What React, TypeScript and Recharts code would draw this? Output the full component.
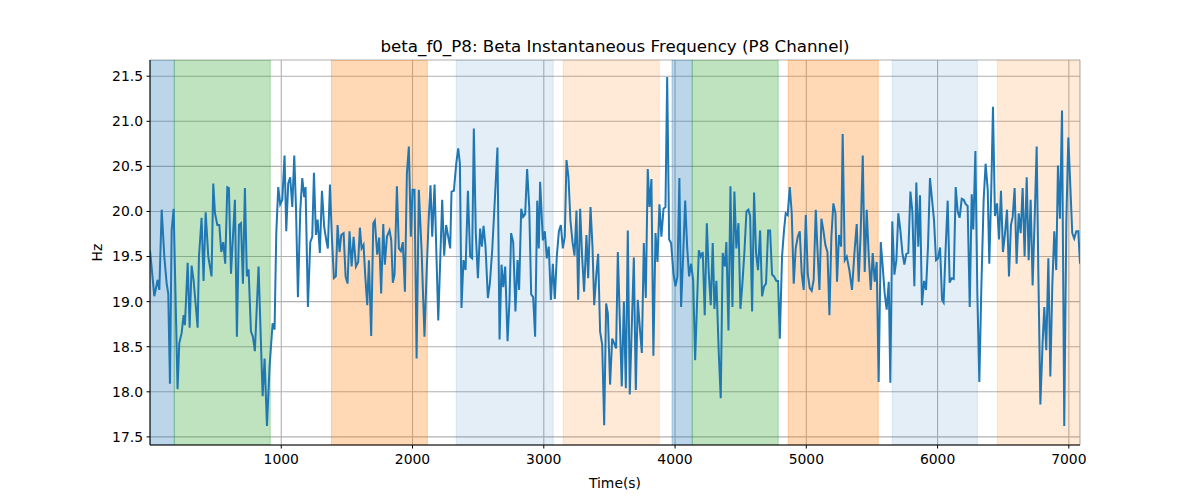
import {
  LineChart,
  Line,
  XAxis,
  YAxis,
  CartesianGrid,
  ReferenceArea,
} from 'recharts'

// sample times (s) and instantaneous beta frequency (Hz)
const times = [
  0, 33, 58, 71, 89, 109, 127, 139, 152, 165, 180, 210, 223, 241, 256, 266, 287, 302, 317, 332,
  363, 373, 393, 408, 424, 444, 469, 482, 495, 513, 528, 543, 558, 573, 589,
  601, 617, 647, 662, 678, 693, 708, 723, 738, 751, 769, 784, 799, 827, 858, 873, 891, 911, 934,
  949, 962, 977, 992, 1008, 1025, 1038, 1053, 1068, 1084, 1099, 1112, 1127, 1145, 1160, 1175, 1185,
  1203, 1221, 1236, 1249, 1264, 1277, 1294, 1310, 1327, 1343, 1355, 1371, 1386, 1401, 1416, 1429,
  1444, 1457, 1475, 1490, 1505, 1520, 1536, 1551, 1569, 1586, 1599, 1612, 1627, 1640, 1655, 1668,
  1685, 1701, 1713, 1731, 1746, 1761, 1777,
  1789, 1805, 1825, 1838, 1850, 1863, 1881, 1896, 1911, 1926, 1942, 1957, 1972, 1987, 2000, 2015,
  2031, 2048, 2069, 2091, 2107, 2124, 2137, 2150, 2168, 2180, 2196, 2211, 2226, 2241, 2256, 2272,
  2287, 2297, 2315, 2333, 2348, 2361, 2373,
  2388, 2404, 2422, 2439, 2454, 2467, 2482, 2498, 2515, 2528, 2541, 2556, 2574, 2589, 2607, 2627,
  2647, 2663, 2678, 2691, 2706, 2724, 2739, 2751, 2767, 2784, 2800, 2812, 2828, 2843, 2858, 2873,
  2889, 2904, 2919, 2934, 2950, 2962, 2972,
  2993, 3008, 3023, 3038, 3054, 3069, 3084, 3099, 3115, 3130, 3145, 3160, 3173, 3188, 3203, 3219,
  3234, 3249, 3262, 3277, 3292, 3307, 3325, 3338, 3356, 3371, 3384, 3399, 3414, 3429, 3445, 3460,
  3475, 3488, 3505, 3521, 3536, 3551, 3564,
  3594, 3610, 3625, 3640, 3655, 3686, 3701, 3716, 3731, 3747, 3762, 3777, 3792, 3805, 3820, 3835,
  3851, 3866, 3881, 3896, 3912, 3927, 3940, 3955, 3970, 3988, 4003, 4018, 4033, 4046, 4061, 4077,
  4092, 4107, 4122, 4138, 4153,
  4181, 4196, 4211, 4226, 4242, 4257, 4272, 4287, 4300, 4315, 4333, 4348, 4363, 4379, 4391, 4407,
  4422, 4437, 4452, 4467, 4483, 4498, 4513, 4528, 4544, 4559, 4572, 4587, 4602, 4617, 4632, 4648,
  4663, 4678, 4693, 4709, 4724, 4739, 4754,
  4772, 4785, 4798, 4815, 4830, 4843, 4858, 4874, 4889, 4904, 4919, 4935, 4950, 4965, 4980, 4996,
  5011, 5026, 5041, 5056, 5072, 5084, 5100, 5115, 5130, 5145, 5161, 5176, 5191, 5206, 5222, 5234,
  5249, 5265, 5277, 5293, 5308, 5328, 5348,
  5369, 5384, 5399, 5414, 5430, 5445, 5460, 5475, 5491, 5506, 5521, 5536, 5551, 5567, 5582, 5597,
  5612, 5628, 5640, 5655, 5671, 5686, 5701, 5716, 5732, 5747, 5762, 5777, 5793, 5808, 5823, 5838,
  5853, 5866, 5881, 5897, 5912, 5927, 5942,
  5958, 5973, 5988, 6003, 6019, 6034, 6046, 6062, 6077, 6092, 6107, 6123, 6138, 6153, 6168, 6184,
  6199, 6214, 6229, 6245, 6260, 6272, 6288, 6303, 6318, 6333, 6351, 6366, 6382, 6394, 6409, 6422,
  6437, 6453, 6468, 6483, 6498, 6514, 6529,
  6544, 6559, 6572, 6587, 6602, 6618, 6633, 6648, 6663, 6679, 6694, 6709, 6724, 6740, 6755, 6767,
  6783, 6800, 6813, 6828, 6844, 6859, 6874, 6889, 6904, 6917, 6932, 6948, 6965, 6981, 6996, 7011,
  7026, 7041, 7057, 7072, 7085,
]

const hz = [
  19.57, 19.06, 19.24, 19.13, 20.02, 19.5, 19.2, 19.09, 18.09, 19.79, 20.03, 18.03, 18.54, 18.65, 18.85, 18.74, 19.43, 18.71, 19.4, 19.24,
  18.71, 19.5, 19.93, 19.23, 19.99, 19.5, 19.28, 20.31, 19.98, 19.85, 19.85, 19.55, 19.66, 19.42, 20.27,
  20.26, 19.31, 20.13, 18.61, 19.85, 19.87, 19.2, 20.26, 19.28, 19.36, 18.67, 18.61, 18.45, 19.39, 17.95, 18.37, 17.62, 18.28, 18.76,
  18.69, 19.76, 20.27, 20.08, 20.13, 20.62, 19.78, 20.31, 20.38, 20.05, 20.62, 20.05, 19.05, 20.02, 20.37, 20.16, 20.27,
  18.94, 19.66, 19.72, 20.43, 19.74, 19.91, 19.54, 20.23, 19.83, 19.68, 19.59, 20.3, 19.7, 19.26, 19.28, 19.85,
  19.55, 19.74, 19.76, 19.28, 19.2, 19.78, 19.39, 19.72, 19.39, 19.44, 19.82, 19.59, 19.63, 19.28, 18.96, 19.46,
  18.62, 19.87, 19.9, 19.52, 19.71, 19.09, 19.86,
  19.41, 19.72, 19.79, 19.68, 19.21, 19.3, 20.28, 19.59, 19.56, 19.66, 19.11, 20.42, 20.72, 19.72, 20.24, 20.24,
  18.37, 20.24, 19.57, 18.61, 19.31, 19.94, 20.29, 19.72, 20.3, 19.63, 18.79, 19.46, 20.13, 19.51, 19.85, 19.72,
  19.59, 20.22, 20.23, 20.53, 20.7, 20.53, 18.93,
  19.46, 19.35, 20.23, 19.5, 19.48, 20.92, 19.76, 19.26, 19.81, 19.61, 19.84, 19.61, 19.04, 19.2, 19.57, 20.13,
  20.71, 18.58, 19.41, 19.16, 19.39, 18.56, 19.02, 19.76, 19.66, 18.89, 19.46, 19.13, 20.03, 19.94, 19.97, 20.47,
  20.05, 19.08, 19.05, 18.61, 20.12, 19.59, 20.33,
  19.68, 19.78, 19.48, 19.61, 19.02, 19.42, 19.03, 19.5, 19.78, 19.85, 19.59, 19.72, 20.57, 20.38, 19.9, 19.66,
  19.51, 20.01, 19.02, 20.03, 19.5, 19.11, 19.74, 19.26, 20.05, 19.61, 18.96, 19.28, 19.53, 18.67, 18.52, 17.63,
  18.98, 18.87, 18.08, 18.59, 18.54, 18.48, 19.55,
  18.06, 19.0, 18.04, 19.79, 17.97, 19.49, 18.02, 19.02, 18.72, 18.43, 19.65, 19.04, 20.47, 20.05, 20.36, 18.4,
  19.76, 19.44, 20.08, 19.72, 20.03, 20.05, 21.49, 19.69, 19.65, 19.31, 19.17, 19.28, 20.37, 18.94, 19.48, 20.12,
  19.61, 19.28, 19.42, 19.24, 18.35,
  19.57, 19.5, 19.55, 18.85, 19.87, 19.31, 18.96, 19.65, 18.92, 19.23, 18.43, 17.93, 19.54, 19.39, 19.66, 18.68,
  20.28, 18.94, 20.22, 19.59, 19.87, 18.92, 19.2, 19.54, 20.0, 20.02, 19.95, 18.89, 20.21, 19.54, 19.35, 19.79,
  19.06, 19.17, 19.2, 19.79, 19.79, 19.3, 19.28,
  19.23, 19.23, 18.59, 19.5, 19.79, 19.98, 19.96, 20.27, 19.98, 19.2, 19.59, 19.72, 19.78, 19.31, 19.13, 19.96,
  19.31, 19.15, 19.12, 19.24, 20.02, 19.61, 19.13, 19.92, 19.79, 19.63, 19.55, 18.85, 19.72, 20.09, 19.98, 19.22,
  19.74, 19.61, 20.86, 19.46, 19.5, 19.35, 19.13,
  19.59, 19.86, 19.22, 19.76, 20.62, 19.33, 20.02, 19.52, 19.13, 19.54, 19.22, 19.44, 18.11, 19.66, 19.39, 19.09,
  18.91, 19.22, 18.1, 19.89, 19.3, 19.46, 19.98, 19.8, 19.54, 19.41, 19.53, 19.54, 20.22, 20.0, 19.17, 20.32,
  19.61, 20.18, 18.96, 19.23, 19.13, 19.61, 20.37,
  20.13, 19.9, 19.46, 19.48, 19.6, 19.02, 18.99, 19.61, 20.12, 19.21, 19.26, 19.25, 20.27, 20.0, 19.93, 20.14,
  20.13, 20.08, 20.06, 18.94, 20.19, 19.8, 20.67, 19.09, 18.11, 19.13, 20.13, 20.53, 20.24, 19.42, 20.24, 21.16,
  19.95, 20.09, 19.69, 20.23, 19.55, 19.76, 20.02,
  19.28, 19.85, 19.94, 20.26, 19.42, 19.98, 19.76, 20.26, 19.5, 20.38, 19.46, 20.13, 19.18, 19.94, 20.72, 19.39,
  17.86, 18.54, 18.94, 18.46, 19.48, 18.17, 19.18, 19.78, 19.35, 20.51, 19.92, 21.12, 17.62, 19.9, 20.82, 20.29,
  19.76, 19.7, 19.78, 19.78, 19.42,
]

// shaded segments: start, end and kind
const spanStart = [0, 185, 1382, 2333, 3148, 3977, 4131, 4862, 5655, 6455]
const spanEnd = [185, 916, 2113, 3072, 3880, 4131, 4786, 5548, 6303, 7085]
const spanKind = ['blue', 'green', 'orange', 'paleBlue', 'paleOrange', 'blue', 'green', 'orange', 'paleBlue', 'paleOrange']

const xTicks = [1000, 2000, 3000, 4000, 5000, 6000, 7000]
const yTicks = [17.5, 18, 18.5, 19, 19.5, 20, 20.5, 21, 21.5]

const spanStyle: Record<string, { fill: string; opacity: number }> = {
  blue: { fill: '#1f77b4', opacity: 0.3 },
  green: { fill: '#2ca02c', opacity: 0.3 },
  orange: { fill: '#ff7f0e', opacity: 0.3 },
  paleBlue: { fill: '#1f77b4', opacity: 0.12 },
  paleOrange: { fill: '#ff7f0e', opacity: 0.16 },
}

const data = times.map((t, i) => ({ t, hz: hz[i] }))

const tickStyle = { fill: '#000', fontSize: 13.9 }

export default function App() {
  return (
    <div
      style={{
        position: 'absolute',
        left: 0,
        top: 0,
        width: 1200,
        height: 500,
        background: '#fff',
        fontFamily: '"DejaVu Sans", sans-serif',
      }}
    >
      <div
        style={{
          position: 'absolute',
          left: 150,
          width: 930,
          top: 36,
          height: 20,
          lineHeight: '20px',
          textAlign: 'center',
          fontSize: 16.7,
          color: '#000',
        }}
      >
        beta_f0_P8: Beta Instantaneous Frequency (P8 Channel)
      </div>
      <LineChart
        width={1200}
        height={500}
        data={data}
        margin={{ top: 60, right: 120, bottom: 0, left: 0 }}
      >
        <CartesianGrid stroke="#b0b0b0" strokeWidth={1.1} />
        {spanStart.map((s, i) => (
          <ReferenceArea
            key={i}
            x1={s}
            x2={spanEnd[i]}
            fill={spanStyle[spanKind[i]].fill}
            fillOpacity={spanStyle[spanKind[i]].opacity}
            stroke={spanStyle[spanKind[i]].fill}
            strokeOpacity={spanStyle[spanKind[i]].opacity}
            ifOverflow="hidden"
          />
        ))}
        <XAxis
          dataKey="t"
          type="number"
          domain={[0, 7085]}
          ticks={xTicks}
          allowDataOverflow
          height={55}
          tick={tickStyle}
          tickSize={3.5}
          tickMargin={6}
          stroke="#000"
          label={{ value: 'Time(s)', position: 'insideBottom', offset: 12, fill: '#000', fontSize: 13.9 }}
        />
        <XAxis
          xAxisId="top"
          orientation="top"
          dataKey="t"
          type="number"
          domain={[0, 7085]}
          height={0}
          tick={false}
          tickLine={false}
          stroke="#000"
        />
        <YAxis
          type="number"
          domain={[17.41, 21.68]}
          ticks={yTicks}
          allowDataOverflow
          width={150}
          tick={tickStyle}
          tickSize={3.5}
          tickMargin={3.5}
          tickFormatter={(v) => Number(v).toFixed(1)}
          stroke="#000"
          label={{ value: 'Hz', angle: -90, position: 'center', dx: 22, fill: '#000', fontSize: 13.9 }}
        />
        <YAxis
          yAxisId="right"
          orientation="right"
          domain={[17.41, 21.68]}
          width={0}
          tick={false}
          tickLine={false}
          stroke="#000"
        />
        <Line
          type="linear"
          dataKey="hz"
          stroke="#1f77b4"
          strokeWidth={2}
          dot={false}
          isAnimationActive={false}
        />
      </LineChart>
    </div>
  )
}
